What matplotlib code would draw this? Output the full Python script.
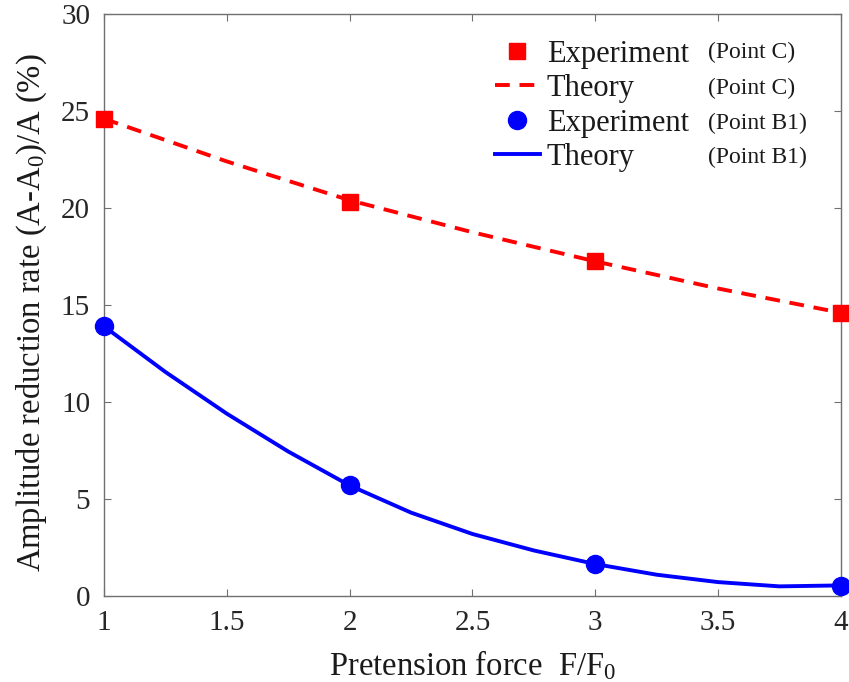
import matplotlib
matplotlib.use('Agg')
from matplotlib import pyplot as plt
from matplotlib.lines import Line2D

plt.rcParams['font.family'] = ['Liberation Serif', 'DejaVu Serif']
plt.rcParams['mathtext.fontset'] = 'custom'
plt.rcParams['mathtext.rm'] = 'Liberation Serif'
plt.rcParams['mathtext.it'] = 'Liberation Serif:italic'

# measured points
force_exp = [1, 2, 3, 4]
rate_c_exp = [24.6, 20.3, 17.25, 14.6]
rate_b1_exp = [13.9, 5.7, 1.65, 0.5]

# model curves
force_c_th = [1, 1.5, 2, 2.5, 3, 3.5, 4]
rate_c_th = [24.6, 22.4, 20.4, 18.75, 17.25, 15.85, 14.6]
force_b1_th = [1, 1.25, 1.5, 1.75, 2, 2.25, 2.5, 2.75, 3, 3.25, 3.5, 3.75, 4]
rate_b1_th = [13.9, 11.55, 9.4, 7.45, 5.7, 4.3, 3.2, 2.35, 1.65, 1.1, 0.72, 0.5, 0.55]

xticks = [1, 1.5, 2, 2.5, 3, 3.5, 4]
xticklabels = ['1', '1.5', '2', '2.5', '3', '3.5', '4']
yticks = [0, 5, 10, 15, 20, 25, 30]

red = '#ff0000'
blue = '#0000ff'
txt = '#262626'
dark = '#1a1a1a'

fig = plt.figure(figsize=(8.49, 6.82), dpi=100)
ax = fig.add_axes([0.1225, 0.126, 0.868, 0.8535])

ax.plot(force_c_th, rate_c_th, color=red, lw=2.8, dashes=(3.8, 2.5), clip_on=False)
ax.plot(force_b1_th, rate_b1_th, color=blue, lw=2.8, clip_on=False)
ax.plot(force_exp, rate_c_exp, 's', color=red, ms=11, clip_on=False, zorder=5)
ax.plot(force_exp, rate_b1_exp, 'o', color=blue, ms=13, clip_on=False, zorder=5)

ax.set_xlim(1, 4)
ax.set_ylim(0, 30)
ax.set_xticks(xticks)
ax.set_xticklabels(xticklabels)
ax.set_yticks(yticks)
ax.tick_params(direction='in', top=True, right=True, length=5, width=0.8,
               colors='#707070', labelcolor=txt, labelsize=21)
ax.tick_params(axis='x', pad=10)
ax.tick_params(axis='y', pad=10)
for s in ax.spines.values():
    s.set_color('#707070')
    s.set_linewidth(1.0)

ax.set_xlabel(r'Pretension force  F/F$_{\rm 0}$', fontsize=23.5, color=dark, labelpad=9)
ax.set_ylabel(r'Amplitude reduction rate (A-A$_{\rm 0}$)/A (%)', fontsize=23.5,
              color=dark)
ax.yaxis.set_label_coords(-0.074, 0.486)

handles = [
    Line2D([], [], marker='s', color=red, ls='none', ms=11),
    Line2D([], [], color=red, lw=2.8, dashes=(3.8, 2.5)),
    Line2D([], [], marker='o', color=blue, ls='none', ms=13),
    Line2D([], [], color=blue, lw=2.8),
]
labels = ['Experiment', 'Theory', 'Experiment', 'Theory']
leg = ax.legend(handles, labels, loc='upper left', bbox_to_anchor=(0.53, 0.956),
                frameon=False, fontsize=22, handlelength=1.48, handletextpad=0.23,
                labelspacing=0.18, borderaxespad=0, borderpad=0)
for t in leg.get_texts():
    t.set_color(dark)

# point names beside the legend entries
points = ['(Point C)', '(Point C)', '(Point B1)', '(Point B1)']
rows_y = [52, 88, 123, 157]
for name, py in zip(points, rows_y):
    fig.text(708 / 849, 1 - py / 682, name, fontsize=17, color=dark,
             ha='left', va='center')

fig.savefig('out.png', dpi=100)
